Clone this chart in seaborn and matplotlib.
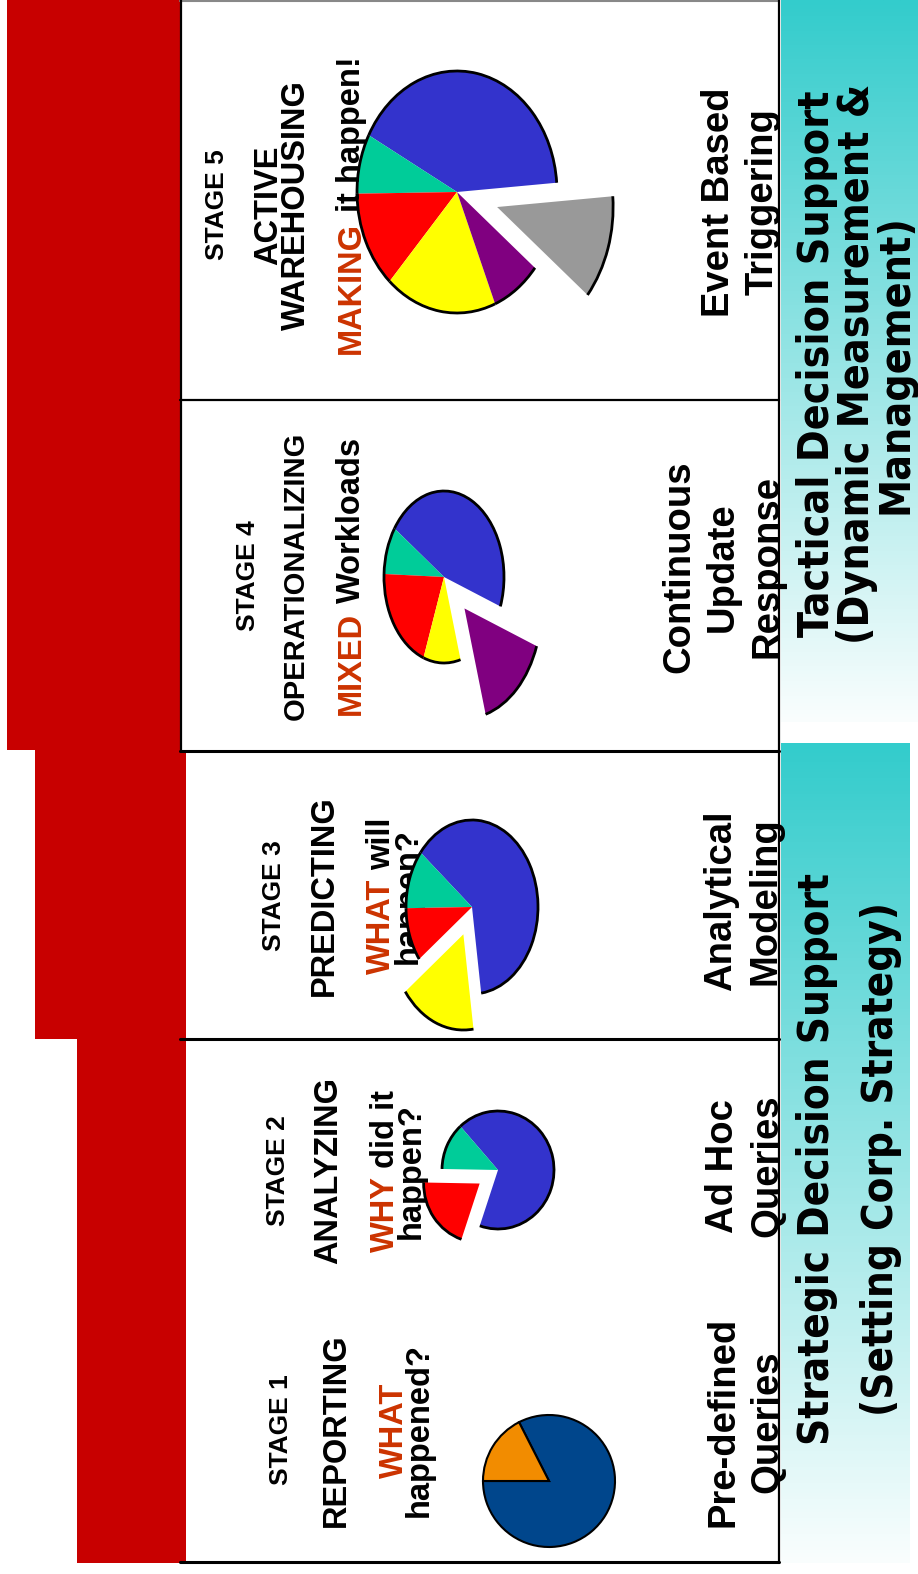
import numpy as np
import matplotlib
matplotlib.use('Agg')
import matplotlib.pyplot as plt
from matplotlib.patches import Rectangle, Arc
import seaborn as sns

# ---- chart content ----
stage_labels = ['STAGE 1', 'STAGE 2', 'STAGE 3', 'STAGE 4', 'STAGE 5']
stage_titles = [['REPORTING'], ['ANALYZING'], ['PREDICTING'], ['OPERATIONALIZING'], ['ACTIVE', 'WAREHOUSING']]
question_key = ['WHAT', 'WHY', 'WHAT', 'MIXED', 'MAKING']
question_rest = [['', 'happened?'], ['did it', 'happen?'], ['will', 'happen?'], ['Workloads'], ['it happen!']]
workloads = [['Pre-defined', 'Queries'], ['Ad Hoc', 'Queries'], ['Analytical', 'Modeling'],
             ['Continuous', 'Update', 'Response'], ['Event Based', 'Triggering']]
pie_values = [[82.5, 17.5],
              [67, 13, 20],
              [62, 11, 10, 17],
              [46, 9, 20, 10, 15],
              [41, 8, 13, 18, 8, 12]]
pie_colors = [['#00468C', '#F28C00'],
              ['#3333CC', '#00CC99', '#FF0000'],
              ['#3333CC', '#00CC99', '#FF0000', '#FFFF00'],
              ['#3333CC', '#00CC99', '#FF0000', '#FFFF00', '#800080'],
              ['#3333CC', '#00CC99', '#FF0000', '#FFFF00', '#800080', '#999999']]
pie_start = [180, 251, 278, 340, 4.4]
tier_lines = [['Strategic Decision Support', '(Setting Corp. Strategy)'],
              ['Tactical Decision Support', '(Dynamic Measurement &', 'Management)']]

# ---- layout (pixels on the 918x1574 canvas) ----
W, H = 918, 1574
stage_yc = [1430, 1171, 896, 576, 205]
label_x = [288, 285, 281, 255, 224]
title_x = [[345], [337], [333], [304], [277, 305]]
title_size = [23.5, 23.5, 23.5, 21, 23.5]
quest_x = [[403, 428], [394, 420], [390, 417], [360], [360]]
work_x = [[733, 777], [733, 777], [731, 775], [689, 733, 777], [729, 773]]
work_yc = [1422, 1166, 901, 567, 202]
pie_box = [(549, 1481, 66, 66), (498, 1170, 56, 59), (472, 907, 66, 87),
           (444, 577, 60, 86), (457, 192, 100, 121)]
pie_pop = [(None, 0, 1), (2, 0.40, 1.0), (3, 0.34, 1.1), (4, 0.5, 1.28), (5, 0.42, 1.16)]
tier_x = [[829, 893], [829, 869, 907]]
tier_yc = [1159, 364]
tier_len = [570, 545]   # length of the first line of each tier box

RED_BAR = '#C80000'
KEY_RED = '#CC3300'

sns.set_theme(style='white')
plt.rcParams['font.family'] = ['Liberation Sans', 'DejaVu Sans']

fig = plt.figure(figsize=(W / 100, H / 100), dpi=100)
ax = fig.add_axes([0, 0, 1, 1])
ax.set_xlim(0, W)
ax.set_ylim(H, 0)
ax.axis('off')
renderer = fig.canvas.get_renderer()


def vtext(x, y, s, size, color='black', ha='center', top=False, **extra):
    kw = dict(fontsize=size, color=color, ha=ha, va='baseline', fontweight='bold',
              rotation=90, rotation_mode='anchor')
    kw.update(extra)
    if top:
        return fig.text(x, y, s, transform=ax.transData, zorder=10, **kw)
    return ax.text(x, y, s, zorder=5, **kw)


def text_len(s, size, **extra):
    t = vtext(0, 0, s, size, **extra)
    n = t.get_window_extent(renderer).height
    t.remove()
    return n


def key_line(x, yc, key, rest, size, top=False):
    if not rest:
        vtext(x, yc, key, size, KEY_RED, top=top)
        return
    L = text_len(key + ' ' + rest, size)
    y0 = yc + L / 2
    vtext(x, y0, key, size, KEY_RED, ha='left', top=top)
    vtext(x, y0 - L, rest, size, ha='right', top=top)


# red staircase
ax.add_patch(Rectangle((7, 0), 174, 750, color=RED_BAR, lw=0))
ax.add_patch(Rectangle((35, 750), 151, 289, color=RED_BAR, lw=0))
ax.add_patch(Rectangle((77, 1039), 109, 524, color=RED_BAR, lw=0))

# stage boxes
ax.add_patch(Rectangle((186, 751), 592, 812, color='white', lw=0))
ax.plot([180, 779], [1, 1], color='#888888', lw=1.5)
ax.plot([181, 181], [0, 751], color='black', lw=1.6)
ax.plot([779, 779], [0, 1563], color='black', lw=1.6)
ax.plot([180, 779], [400, 400], color='black', lw=1.6)
for yy in [751, 1039, 1562]:
    ax.plot([180, 779], [yy, yy], color='black', lw=2.2)

# gradient tier boxes
grad = np.linspace(0, 1, 256)[:, None]
teal = np.array([0.2, 0.8, 0.8])
pale = np.array([0.98, 0.995, 0.995])
img = teal[None, None, :] * (1 - grad[:, :, None]) + pale[None, None, :] * grad[:, :, None]
ax.imshow(img, extent=(781, 918, 722, 0), origin='upper', aspect='auto', zorder=1)
ax.imshow(img, extent=(781, 910, 1563, 743), origin='upper', aspect='auto', zorder=1)
cond = dict(family='DejaVu Sans', fontstretch='condensed')
for lines, xs, yc, target in zip(tier_lines, tier_x, tier_yc, tier_len):
    size = 30 * target / text_len(lines[0], 30, **cond)
    for s, x in zip(lines, xs):
        vtext(x, yc, s, size, **cond)

# stage texts
for i in range(5):
    yc = stage_yc[i]
    vtext(label_x[i], yc, stage_labels[i], 19)
    for s, x in zip(stage_titles[i], title_x[i]):
        vtext(x, yc, s, title_size[i])
    top = (i == 4)
    key_line(quest_x[i][0], yc, question_key[i], question_rest[i][0], 23.5, top=top)
    for s, x in zip(question_rest[i][1:], quest_x[i][1:]):
        vtext(x, yc, s, 23.5, top=top)
    for s, x in zip(workloads[i], work_x[i]):
        vtext(x, work_yc[i], s, 27.5)

# pies
for i in range(5):
    cx, cy, rx, ry = pie_box[i]
    k, ex, er = pie_pop[i]
    pax = fig.add_axes([(cx - rx) / W, 1 - (cy + ry) / H, 2 * rx / W, 2 * ry / H])
    vals = pie_values[i]
    explode = [0] * len(vals)
    if k is not None:
        explode[k] = ex
    if i == 0:
        wp = dict(edgecolor='black', linewidth=1.5)
    else:
        wp = dict(edgecolor='none', linewidth=0)
    wedges, _ = pax.pie(vals, colors=pie_colors[i], startangle=pie_start[i],
                        counterclock=True, explode=explode, wedgeprops=wp)
    pax.set_aspect('auto')
    pax.set_xlim(-1, 1)
    pax.set_ylim(-1, 1)
    pax.axis('off')
    for w in wedges:
        w.set_clip_on(False)
    if k is not None:
        wedges[k].set_radius(er)
    if i > 0:
        for w in wedges:
            pax.add_patch(Arc(w.center, 2 * w.r, 2 * w.r, theta1=w.theta1, theta2=w.theta2,
                              color='black', lw=2, clip_on=False))

fig.savefig('out.png', dpi=100)
